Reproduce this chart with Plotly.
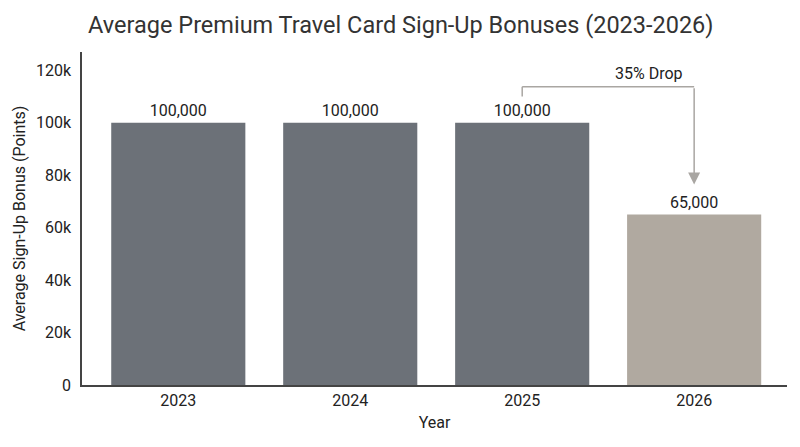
import plotly.graph_objects as go

years = ["2023", "2024", "2025", "2026"]
bonus_points = [100000, 100000, 100000, 65000]
value_labels = ["100,000", "100,000", "100,000", "65,000"]
bar_colors = ["#6c7178", "#6c7178", "#6c7178", "#b0a9a0"]

drop_label = "35% Drop"

# bracket heights for the drop callout (data units)
bracket_top = 113700
bracket_start = 110000
arrow_tip = 76500
# category positions of the callout (2025 -> 2026)
from_idx = years.index("2025")
to_idx = years.index("2026")

fig = go.Figure()

fig.add_trace(go.Bar(
    x=years,
    y=bonus_points,
    marker=dict(color=bar_colors, line=dict(width=0)),
    width=0.78,
    text=value_labels,
    textposition="outside",
    textfont=dict(size=16, color="#222222"),
    cliponaxis=False,
    hoverinfo="skip",
))

# bracket from 2025 over to 2026
fig.add_shape(type="line", xref="x", yref="y",
              x0=from_idx, x1=from_idx, y0=bracket_start, y1=bracket_top,
              line=dict(color="#a9a6a2", width=1.5))
fig.add_shape(type="line", xref="x", yref="y",
              x0=from_idx, x1=to_idx, y0=bracket_top, y1=bracket_top,
              line=dict(color="#a9a6a2", width=1.5))
fig.add_annotation(
    x=to_idx, y=arrow_tip, ax=to_idx, ay=bracket_top,
    xref="x", yref="y", axref="x", ayref="y",
    showarrow=True, arrowhead=2, arrowsize=1.6, arrowwidth=1.5,
    arrowcolor="#a9a6a2", text="",
)
fig.add_annotation(
    x=from_idx + 0.74, y=bracket_top, xref="x", yref="y",
    text=drop_label, showarrow=False, yanchor="bottom", yshift=2,
    font=dict(size=16, color="#222222"),
)

fig.update_layout(
    width=800, height=447,
    margin=dict(l=74, r=21, t=44, b=70),
    paper_bgcolor="white", plot_bgcolor="white",
    font=dict(family="Roboto, Arial, sans-serif", color="#333333"),
    title=dict(text="Average Premium Travel Card Sign-Up Bonuses (2023-2026)",
               x=0.491, xanchor="center", y=0.962, yanchor="middle",
               font=dict(size=23.5, color="#333333")),
    showlegend=False,
    bargap=0.22,
)
fig.update_xaxes(
    type="category", range=[-0.56, 3.54], automargin=False,
    showline=True, linecolor="#444444", linewidth=1.5,
    showgrid=False, ticks="",
    tickfont=dict(size=16, color="#222222"),
    title=dict(text="Year", font=dict(size=16, color="#222222"), standoff=8),
)
fig.update_yaxes(
    range=[0, 127000], automargin=False,
    tickvals=[0, 20000, 40000, 60000, 80000, 100000, 120000],
    ticktext=["0", "20k", "40k", "60k", "80k", "100k", "120k"],
    showline=True, linecolor="#444444", linewidth=1.5,
    showgrid=False, zeroline=False,
    ticks="outside", ticklen=6, tickcolor="rgba(0,0,0,0)",
    tickfont=dict(size=16, color="#222222"),
    title=dict(text="Average Sign-Up Bonus (Points)", font=dict(size=16, color="#222222"), standoff=6),
)

fig.write_html("out.html")
